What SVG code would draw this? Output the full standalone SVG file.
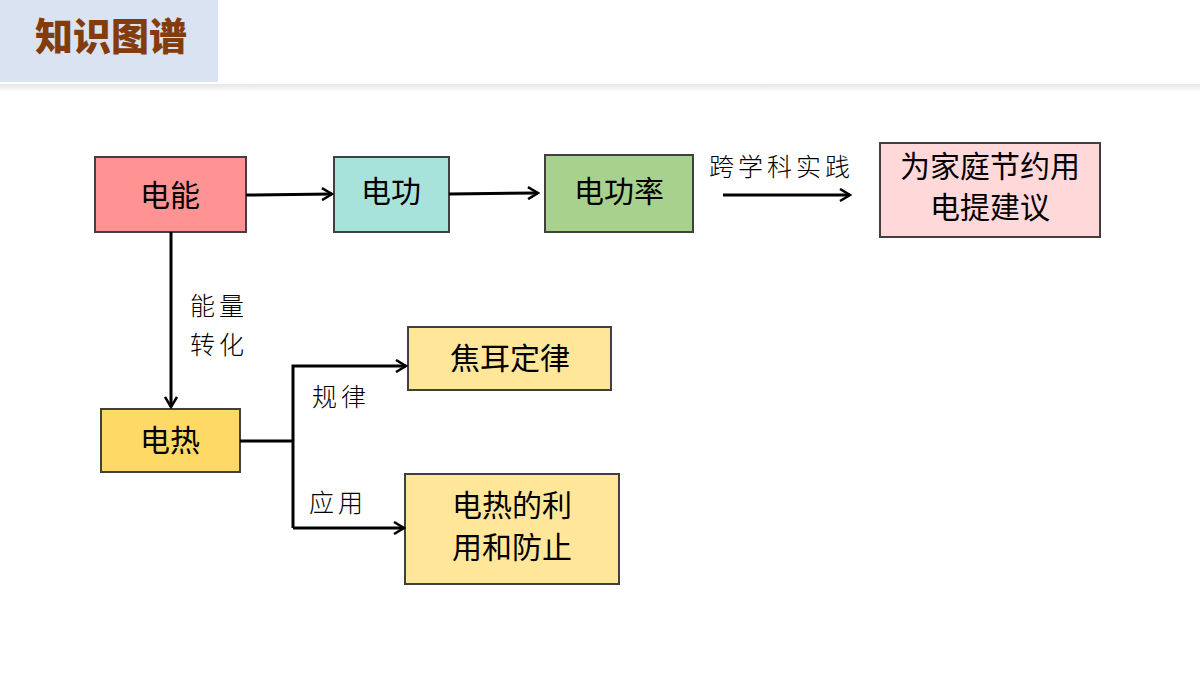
<svg xmlns="http://www.w3.org/2000/svg" width="1200" height="675" viewBox="0 0 1200 675">
<style>
.box{stroke:#404040;stroke-width:2}
.t{font-family:"Noto Sans CJK SC",sans-serif;font-size:30px;fill:#000;text-anchor:middle}
.l{font-family:"Noto Sans CJK SC",sans-serif;font-size:25px;font-weight:300;fill:#000;letter-spacing:4px}
.c{stroke:#000;stroke-width:3;fill:none}
</style>
<defs>
<marker id="a" markerWidth="14" markerHeight="14" refX="12" refY="7" orient="auto" markerUnits="userSpaceOnUse">
<path d="M2,1 L12,7 L2,13" fill="none" stroke="#000" stroke-width="2.5"/>
</marker>
<linearGradient id="sh" x1="0" y1="0" x2="0" y2="1"><stop offset="0" stop-color="#e6e6e6"/><stop offset="1" stop-color="#fff"/></linearGradient>
</defs>
<rect width="1200" height="675" fill="#fff"/>
<rect x="0" y="0" width="218" height="82" fill="#dae3f1"/>
<rect x="0" y="84" width="1200" height="8" fill="url(#sh)"/>
<text x="111" y="50" font-family="Noto Sans CJK SC,sans-serif" font-size="38" font-weight="900" fill="#843c0c" text-anchor="middle">知识图谱</text>
<g id="n1"><rect class="box" x="95" y="157" width="151" height="75" fill="#ff9393"/><text class="t" x="170" y="206">电能</text></g>
<g id="n2"><rect class="box" x="334" y="157" width="115" height="75" fill="#a8e3db"/><text class="t" x="391" y="202">电功</text></g>
<g id="n3"><rect class="box" x="545" y="155" width="148" height="77" fill="#a9d18e"/><text class="t" x="619" y="202">电功率</text></g>
<g id="n4"><rect class="box" x="880" y="143" width="220" height="94" fill="#ffd9da"/><text class="t" x="990" y="177" font-size="28">为家庭节约用</text><text class="t" x="990" y="218" font-size="28">电提建议</text></g>
<g id="n5"><rect class="box" x="101" y="409" width="139" height="63" fill="#ffd966"/><text class="t" x="170" y="451">电热</text></g>
<g id="n6"><rect class="box" x="408" y="327" width="203" height="63" fill="#ffe699"/><text class="t" x="510" y="369">焦耳定律</text></g>
<g id="n7"><rect class="box" x="405" y="474" width="214" height="110" fill="#ffe699"/><text class="t" x="512" y="516">电热的利</text><text class="t" x="512" y="558">用和防止</text></g>
<g id="connectors">
<line class="c" x1="246" y1="195" x2="332" y2="194" marker-end="url(#a)"/>
<line class="c" x1="449" y1="194" x2="538" y2="193" marker-end="url(#a)"/>
<line class="c" x1="723" y1="195" x2="850" y2="195" marker-end="url(#a)"/>
<line class="c" x1="171" y1="232" x2="171" y2="407" marker-end="url(#a)"/>
<polyline class="c" points="240,441 293,441"/>
<polyline class="c" points="293,528 293,366 406,366" marker-end="url(#a)"/>
<polyline class="c" points="293,528 404,528" marker-end="url(#a)"/>
</g>
<text class="l" x="709" y="176">跨学科实践</text>
<text class="l" x="190" y="315">能量</text>
<text class="l" x="190" y="354">转化</text>
<text class="l" x="312" y="406">规律</text>
<text class="l" x="309" y="512">应用</text>
</svg>
